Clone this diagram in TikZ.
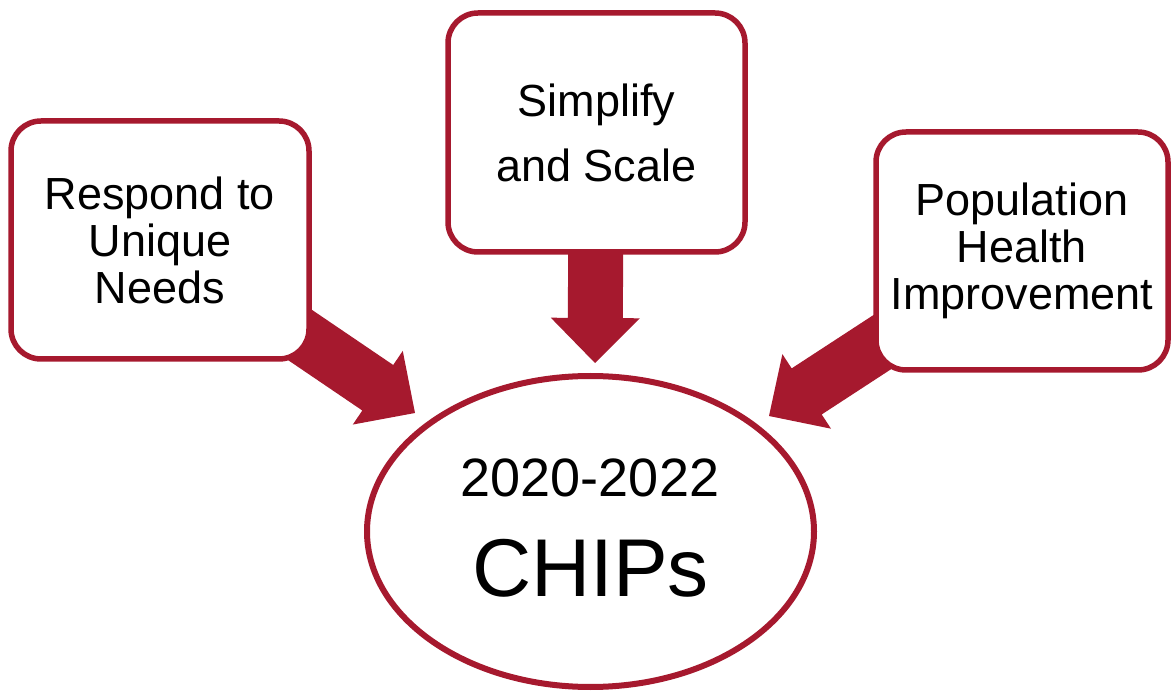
\documentclass[tikz,border=0pt]{standalone}
\usepackage{fontspec}
\setmainfont{Liberation Sans}
\usetikzlibrary{calc,shapes.geometric,backgrounds}
\definecolor{chipred}{RGB}{166,25,46}
\tikzset{
  box/.style={draw=chipred, line width=5.5pt, fill=white, rounded corners=30pt,
    align=center, font=\fontsize{45}{47}\selectfont, inner sep=0pt},
  blockarr/.style={fill=chipred},
  bigtext/.style={anchor=base, inner sep=0pt},
}
\newcommand\blockarrow[2]{%
  \coordinate (hb) at ($(#2)!45pt!(#1.center)$);
  \fill[blockarr] ($(#1.center)!27.5pt!90:(#2)$) -- ($(hb)!27.5pt!90:(#2)$)
    -- ($(hb)!44.5pt!90:(#2)$) -- (#2) -- ($(hb)!44.5pt!-90:(#2)$)
    -- ($(hb)!27.5pt!-90:(#2)$) -- ($(#1.center)!27.5pt!-90:(#2)$) -- cycle;
}
\begin{document}
\begin{tikzpicture}[x=1pt,y=-1pt]
\useasboundingbox (0,0) rectangle (1171,692);
\node[box, minimum width=298pt, minimum height=238pt] (resp) at (160,240)
  {Respond to\\Unique\\Needs};
\node[box, minimum width=297pt, minimum height=239pt,
  font=\fontsize{45}{65}\selectfont] (simp) at (596.5,132.5)
  {Simplify\\and Scale};
\node[box, minimum width=292pt, minimum height=238pt] (pop) at (1022,251)
  {Population\\Health\\Improvement};
\node[draw=chipred, line width=6pt, fill=white, ellipse, inner sep=0pt,
  minimum width=447pt, minimum height=311pt] (chips) at (590.5,531.5) {};
\node[bigtext, font=\fontsize{54}{54}\selectfont] (years) at (590,497) {2020-2022};
\node[bigtext, font=\fontsize{82}{82}\selectfont] (chipstxt) at (590.5,597) {CHIPs};
\coordinate (t1) at (415,413);
\coordinate (t2) at (595,363);
\coordinate (t3) at (769,416);
\begin{scope}[on background layer]
  \blockarrow{resp}{t1}
  \blockarrow{simp}{t2}
  \blockarrow{pop}{t3}
\end{scope}
\end{tikzpicture}
\end{document}
